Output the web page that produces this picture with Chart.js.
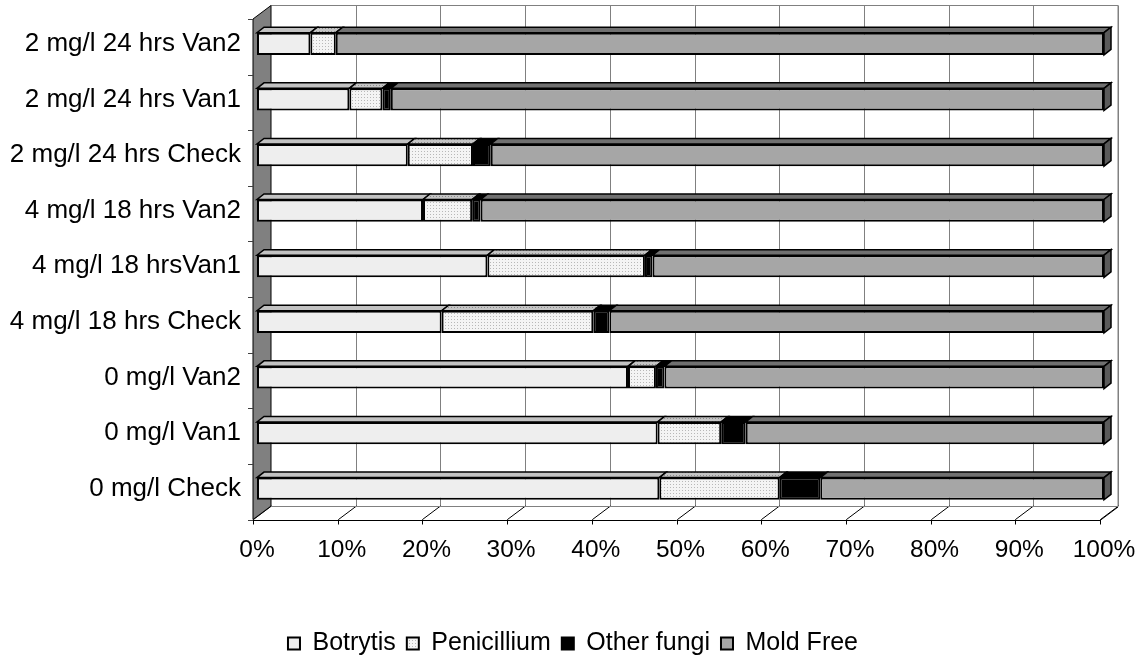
<!DOCTYPE html>
<html>
<head>
<meta charset="utf-8">
<title>Mold incidence by treatment</title>
<script src="https://cdn.jsdelivr.net/npm/chart.js@4.4.1/dist/chart.umd.min.js"></script>
<style>
  html, body { margin: 0; padding: 0; background: #fff; }
  #chart { display: block; }
</style>
</head>
<body>
<canvas id="chart" width="1136" height="658"></canvas>
<script>
// Categories, top to bottom as in the chart
const categories = [
  '2 mg/l 24 hrs Van2',
  '2 mg/l 24 hrs Van1',
  '2 mg/l 24 hrs Check',
  '4 mg/l 18 hrs Van2',
  '4 mg/l 18 hrsVan1',
  '4 mg/l 18 hrs Check',
  '0 mg/l Van2',
  '0 mg/l Van1',
  '0 mg/l Check',
];

// Share of fruit per class (%)
const botrytis    = [6.3, 10.9, 17.8, 19.6, 27.2, 21.8, 43.8, 47.3, 47.5];
const penicillium = [3.0,  3.9,  7.7,  5.8, 18.6, 17.9,  3.3,  7.5, 14.2];
const otherFungi  = [0.0,  1.0,  2.1,  1.0,  0.9,  1.9,  1.0,  2.9,  4.8];
const moldFree    = [90.7, 84.2, 72.4, 73.6, 53.3, 58.4, 51.9, 42.3, 33.5];

const xTicks = [0, 10, 20, 30, 40, 50, 60, 70, 80, 90, 100];

// 3D look: where the front edge, back wall and bar depth sit relative to the bars
const FRONT = { dx: -4, dy: 3 };
const BACK = { dx: 14, dy: -10.5 };
const DEPTH = { dx: 7, dy: -5.5 };

function dotPattern(base, dot) {
  const c = document.createElement('canvas');
  c.width = 3;
  c.height = 3;
  const g = c.getContext('2d');
  g.fillStyle = base;
  g.fillRect(0, 0, 3, 3);
  g.fillStyle = dot;
  g.fillRect(1, 1, 1, 1);
  return g.createPattern(c, 'repeat');
}

const penFront = dotPattern('#f4f4f4', '#b8b8b8');
const penTop = dotPattern('#c4c4c4', '#8c8c8c');

const topColors = ['#c2c2c2', penTop, '#000000', '#707070'];

// Walls, floor and axis lines drawn behind the bars
const box3d = {
  id: 'box3d',
  afterLayout(chart) {
    // legend sits lower and more to the right than Chart.js puts it
    chart.legend.top += 8;
    chart.legend.bottom += 8;
    chart.legend.left += 21;
    chart.legend.right += 21;
  },
  beforeDatasetsDraw(chart) {
    const { ctx, chartArea: a, scales: { x } } = chart;
    const step = (a.bottom - a.top) / categories.length;
    ctx.save();
    ctx.lineWidth = 1;

    // back wall
    ctx.strokeStyle = '#808080';
    const bl = a.left + BACK.dx, br = x.getPixelForValue(100) + BACK.dx;
    const bt = a.top + BACK.dy, bb = a.bottom + BACK.dy;
    ctx.beginPath();
    ctx.moveTo(bl, bt);
    ctx.lineTo(br, bt);
    ctx.lineTo(br, bb);
    ctx.stroke();

    // gridlines on back wall and floor
    xTicks.forEach((v) => {
      const px = Math.round(x.getPixelForValue(v)) + 0.5;
      if (v > 0) {
        ctx.strokeStyle = '#808080';
        ctx.beginPath();
        ctx.moveTo(px + BACK.dx, bt);
        ctx.lineTo(px + BACK.dx, bb);
        ctx.stroke();
      }
      ctx.strokeStyle = '#000';
      ctx.beginPath();
      ctx.moveTo(px + BACK.dx, bb);
      ctx.lineTo(px + FRONT.dx, a.bottom + FRONT.dy);
      ctx.lineTo(px + FRONT.dx, a.bottom + FRONT.dy + 5);
      ctx.stroke();
    });

    // floor back edge
    ctx.strokeStyle = '#808080';
    ctx.beginPath();
    ctx.moveTo(bl, bb + 0.5);
    ctx.lineTo(br, bb + 0.5);
    ctx.stroke();

    // floor front edge
    const fl = a.left + FRONT.dx, fr = x.getPixelForValue(100) + FRONT.dx;
    const fy = Math.round(a.bottom + FRONT.dy) + 0.5;
    ctx.strokeStyle = '#000';
    ctx.beginPath();
    ctx.moveTo(fl, fy);
    ctx.lineTo(fr, fy);
    ctx.lineTo(fr + (BACK.dx - FRONT.dx), fy + (BACK.dy - FRONT.dy));
    ctx.stroke();

    // left wall
    ctx.fillStyle = '#808080';
    ctx.beginPath();
    ctx.moveTo(fl, a.top + FRONT.dy);
    ctx.lineTo(bl, bt);
    ctx.lineTo(bl, bb);
    ctx.lineTo(fl, a.bottom + FRONT.dy);
    ctx.closePath();
    ctx.fill();
    ctx.strokeStyle = '#000';
    ctx.stroke();

    // category ticks on the front edge
    ctx.strokeStyle = '#404040';
    for (let k = 0; k <= categories.length; k++) {
      const ty = Math.round(a.top + k * step + FRONT.dy) + 0.5;
      ctx.beginPath();
      ctx.moveTo(fl - 5, ty);
      ctx.lineTo(fl, ty);
      ctx.stroke();
    }
    ctx.restore();
  },

  // top faces of each segment and the end cap of the bar
  afterDatasetsDraw(chart) {
    const { ctx } = chart;
    const last = chart.data.datasets.length - 1;
    ctx.save();
    ctx.strokeStyle = '#000';
    ctx.lineWidth = 1.5;
    chart.data.datasets.forEach((ds, di) => {
      const meta = chart.getDatasetMeta(di);
      meta.data.forEach((bar) => {
        const { x: x1, y: cy, base: x0, height: h } = bar.getProps(['x', 'y', 'base', 'height'], true);
        if (x1 - x0 < 0.5) return;
        const t = cy - h / 2;
        ctx.fillStyle = topColors[di];
        ctx.beginPath();
        ctx.moveTo(x0, t);
        ctx.lineTo(x1, t);
        ctx.lineTo(x1 + DEPTH.dx, t + DEPTH.dy);
        ctx.lineTo(x0 + DEPTH.dx, t + DEPTH.dy);
        ctx.closePath();
        ctx.fill();
        ctx.stroke();
        if (di === last) {
          ctx.fillStyle = '#5a5a5a';
          ctx.beginPath();
          ctx.moveTo(x1, t);
          ctx.lineTo(x1 + DEPTH.dx, t + DEPTH.dy);
          ctx.lineTo(x1 + DEPTH.dx, t + h + DEPTH.dy);
          ctx.lineTo(x1, t + h);
          ctx.closePath();
          ctx.fill();
          ctx.stroke();
        }
      });
    });
    ctx.restore();
  },
};

Chart.defaults.font.family = 'Arial, "Liberation Sans", sans-serif';
Chart.defaults.font.size = 25;
Chart.defaults.color = '#000';

function series(label, data, color) {
  return {
    label,
    data,
    backgroundColor: color,
    borderColor: '#000',
    borderWidth: 2,
    borderSkipped: false,
    barPercentage: 0.4,
    categoryPercentage: 1,
  };
}

new Chart(document.getElementById('chart'), {
  type: 'bar',
  data: {
    labels: categories,
    datasets: [
      series('Botrytis', botrytis, '#eeeeee'),
      series('Penicillium', penicillium, penFront),
      series('Other fungi', otherFungi, '#000000'),
      series('Mold Free', moldFree, '#a6a6a6'),
    ],
  },
  options: {
    indexAxis: 'y',
    responsive: false,
    animation: false,
    devicePixelRatio: 1,
    layout: {
      padding: { left: 0, right: 32, top: 16, bottom: 0 },
    },
    plugins: {
      legend: {
        position: 'bottom',
        labels: {
          boxWidth: 12,
          boxHeight: 12,
          padding: 11,
          font: { size: 25 },
          color: '#000',
        },
      },
      tooltip: { enabled: false },
    },
    scales: {
      x: {
        stacked: true,
        min: 0,
        max: 100,
        afterBuildTicks: (scale) => {
          scale.ticks = xTicks.map((v) => ({ value: v }));
        },
        afterFit: (scale) => {
          scale.height = 95.5;
          scale.paddingLeft = 0;
          scale.paddingRight = 0;
        },
        ticks: {
          padding: 19.5,
          maxRotation: 0,
          autoSkip: false,
          font: { size: 24.5 },
          callback: (v) => `${v}%`,
        },
        grid: { display: false, drawTicks: false, tickLength: 0 },
        border: { display: false },
      },
      y: {
        stacked: true,
        afterFit: (scale) => {
          scale.width = 257;
          scale.paddingTop = 0;
          scale.paddingBottom = 0;
        },
        ticks: {
          padding: 16,
          autoSkip: false,
          font: { size: 26 },
        },
        grid: { display: false, drawTicks: false, tickLength: 0 },
        border: { display: false },
      },
    },
  },
  plugins: [box3d],
});
</script>
</body>
</html>
